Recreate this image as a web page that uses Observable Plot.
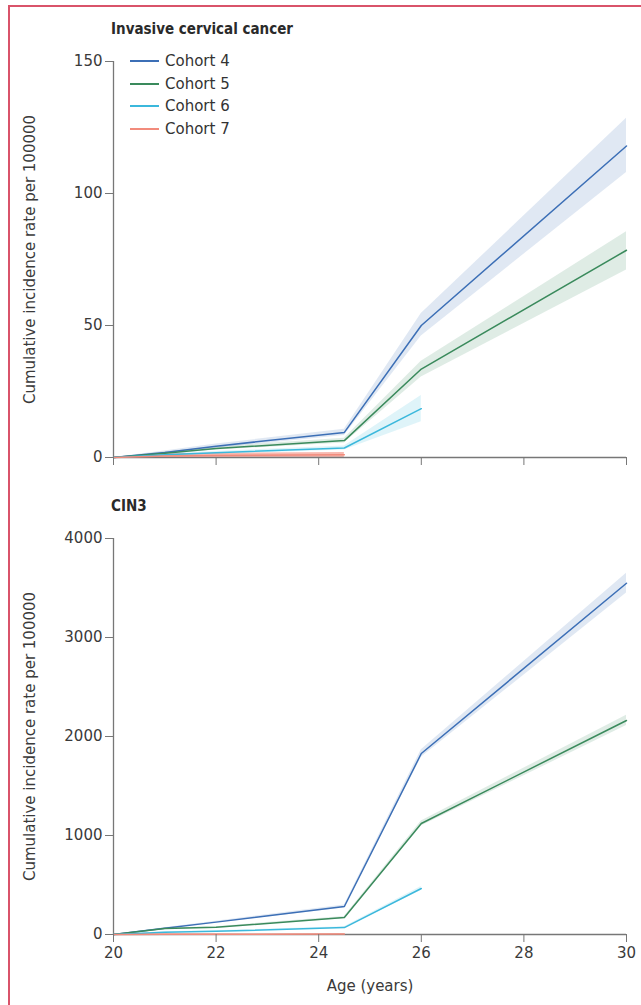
<!DOCTYPE html>
<html>
<head>
<meta charset="utf-8">
<script src="https://cdn.jsdelivr.net/npm/d3@7"></script>
<script src="https://cdn.jsdelivr.net/npm/@observablehq/plot@0.6"></script>
<style>
  html, body { margin: 0; padding: 0; background: #fff; width: 641px; height: 1005px; overflow: hidden; }
  body { position: relative; font-family: "DejaVu Sans", sans-serif; color: #222; }
  .frame { position: absolute; left: 8px; top: 5px; width: 700px; height: 1100px; border: 2px solid #d9536a; box-sizing: border-box; }
  .title { position: absolute; left: 111px; font-family: "DejaVu Sans Condensed", sans-serif; font-size: 15px; font-weight: bold; color: #2a2a2a; }
  .plot { position: absolute; left: 0; }
  .legend { position: absolute; left: 130px; top: 50px; font-size: 15px; color: #333; font-family: "DejaVu Sans", sans-serif; }
  .legend div { height: 22.5px; line-height: 22.5px; display: flex; align-items: center; }
  .legend span.sw { display: inline-block; width: 29px; height: 2px; margin-right: 6px; }
</style>
</head>
<body>
<div class="frame"></div>
<div class="title" style="top:20px">Invasive cervical cancer</div>
<div class="title" style="top:497px">CIN3</div>
<div id="top" class="plot" style="top:40px"></div>
<div id="bottom" class="plot" style="top:510px"></div>
<div id="legend" class="legend"></div>
<script>
// ---- data ----
const cohorts = ["Cohort 4", "Cohort 5", "Cohort 6", "Cohort 7"];
const colors = ["#3c6fb6", "#3a8a5c", "#3bb8dc", "#f28b7c"];
const xTicks = [20, 22, 24, 26, 28, 30];

// Invasive cervical cancer (cumulative incidence per 100000)
const iccAges4 = [20, 21, 22, 24.5, 26, 30];
const icc4    = [0, 1.9, 4.3, 9.5, 50, 118];
const icc4Lo  = [0, 1.3, 3.5, 8.3, 46, 108];
const icc4Hi  = [0, 2.5, 5.1, 10.7, 54.5, 128.5];
const iccAges5 = [20, 21, 22, 24.5, 26, 30];
const icc5    = [0, 1.6, 3.4, 6.4, 33.5, 78.5];
const icc5Lo  = [0, 1.1, 2.8, 5.5, 30.5, 71];
const icc5Hi  = [0, 2.1, 4.0, 7.3, 36.5, 85.5];
const iccAges6 = [20, 21, 22, 24.5, 26];
const icc6    = [0, 1.0, 1.8, 3.6, 18.5];
const icc6Lo  = [0, 0.6, 1.3, 2.8, 13.5];
const icc6Hi  = [0, 1.4, 2.3, 4.4, 23.5];
const iccAges7 = [20, 21, 22, 24.5];
const icc7    = [0, 0.6, 0.8, 1.0];
const icc7Lo  = [0, 0, 0, 0];
const icc7Hi  = [0, 1.4, 1.6, 1.9];

// CIN3 (cumulative incidence per 100000)
const cinAges4 = [20, 21, 22, 24.5, 26, 30];
const cin4    = [0, 62, 125, 283, 1828, 3548];
const cin4Lo  = [0, 55, 115, 268, 1790, 3450];
const cin4Hi  = [0, 69, 135, 298, 1866, 3650];
const cinAges5 = [20, 21, 22, 24.5, 26, 30];
const cin5    = [0, 60, 72, 172, 1121, 2162];
const cin5Lo  = [0, 54, 65, 161, 1096, 2110];
const cin5Hi  = [0, 66, 79, 183, 1146, 2214];
const cinAges6 = [20, 21, 22, 24.5, 26];
const cin6    = [0, 22, 32, 70, 465];
const cin6Lo  = [0, 17, 26, 62, 445];
const cin6Hi  = [0, 27, 38, 78, 485];
const cinAges7 = [20, 21, 22, 24.5];
const cin7    = [0, 2, 3, 5];
const cin7Lo  = [0, 0, 1, 2];
const cin7Hi  = [0, 4, 5, 8];

// ---- build tables ----
function rows(cohort, ages, v, lo, hi) {
  return ages.map((a, i) => ({cohort, age: a, value: v[i], lo: lo[i], hi: hi[i]}));
}
const iccData = [
  ...rows(cohorts[0], iccAges4, icc4, icc4Lo, icc4Hi),
  ...rows(cohorts[1], iccAges5, icc5, icc5Lo, icc5Hi),
  ...rows(cohorts[2], iccAges6, icc6, icc6Lo, icc6Hi),
  ...rows(cohorts[3], iccAges7, icc7, icc7Lo, icc7Hi)
];
const cinData = [
  ...rows(cohorts[0], cinAges4, cin4, cin4Lo, cin4Hi),
  ...rows(cohorts[1], cinAges5, cin5, cin5Lo, cin5Hi),
  ...rows(cohorts[2], cinAges6, cin6, cin6Lo, cin6Hi),
  ...rows(cohorts[3], cinAges7, cin7, cin7Lo, cin7Hi)
];

const font = "'DejaVu Sans', sans-serif";
const yLabel = "Cumulative incidence rate per 100000";

function makePlot(data, yMax, yTicks, opts) {
  const svg = Plot.plot({
    width: 641,
    height: opts.height,
    marginLeft: 113,
    marginRight: 15,
    marginTop: opts.marginTop,
    marginBottom: opts.marginBottom,
    style: {fontFamily: font, fontSize: "15px", color: "#3a3a3a", background: "transparent"},
    x: {domain: [20, 30]},
    y: {domain: [0, yMax]},
    color: {domain: cohorts, range: colors},
    marks: [
      Plot.areaY(data.filter(d => d.cohort !== cohorts[3]), {x: "age", y1: "lo", y2: "hi", z: "cohort", fill: "cohort", fillOpacity: 0.16}),
      Plot.areaY(data.filter(d => d.cohort === cohorts[3]), {x: "age", y1: "lo", y2: "hi", z: "cohort", fill: "cohort", fillOpacity: 0.6}),
      Plot.ruleX([20], {stroke: "#777", strokeWidth: 1.3}),
      Plot.ruleY([0], {stroke: "#777", strokeWidth: 1.3}),
      Plot.lineY(data, {x: "age", y: "value", z: "cohort", stroke: "cohort", strokeWidth: 1.5}),
      Plot.axisY({ticks: yTicks, tickSize: 8, tickPadding: 3, stroke: "#777", fill: "#3a3a3a",
        tickFormat: d3.format("d"),
        label: yLabel, labelAnchor: "center", labelArrow: "none", labelOffset: 89}),
      Plot.axisX({ticks: xTicks, tickSize: 8, tickPadding: 5, stroke: "#777", fill: "#3a3a3a",
        tickFormat: opts.showX ? d3.format("d") : (() => ""),
        label: opts.showX ? "Age (years)" : null, labelAnchor: "center", labelArrow: "none", labelOffset: 56})
    ]
  });
  svg.querySelectorAll('[aria-label="y-axis label"], [aria-label="x-axis label"]').forEach(g => {
    g.setAttribute("font-size", "15px");
    g.style.fontSize = "15px";
  });
  return svg;
}

document.getElementById("top").append(
  makePlot(iccData, 150, [0, 50, 100, 150], {height: 430, marginTop: 21, marginBottom: 13, showX: false})
);
document.getElementById("bottom").append(
  makePlot(cinData, 4000, [0, 1000, 2000, 3000, 4000], {height: 494, marginTop: 28, marginBottom: 70, showX: true})
);

const leg = document.getElementById("legend");
cohorts.forEach((c, i) => {
  const row = document.createElement("div");
  const sw = document.createElement("span");
  sw.className = "sw";
  sw.style.background = colors[i];
  row.append(sw, document.createTextNode(c));
  leg.append(row);
});
</script>
</body>
</html>
